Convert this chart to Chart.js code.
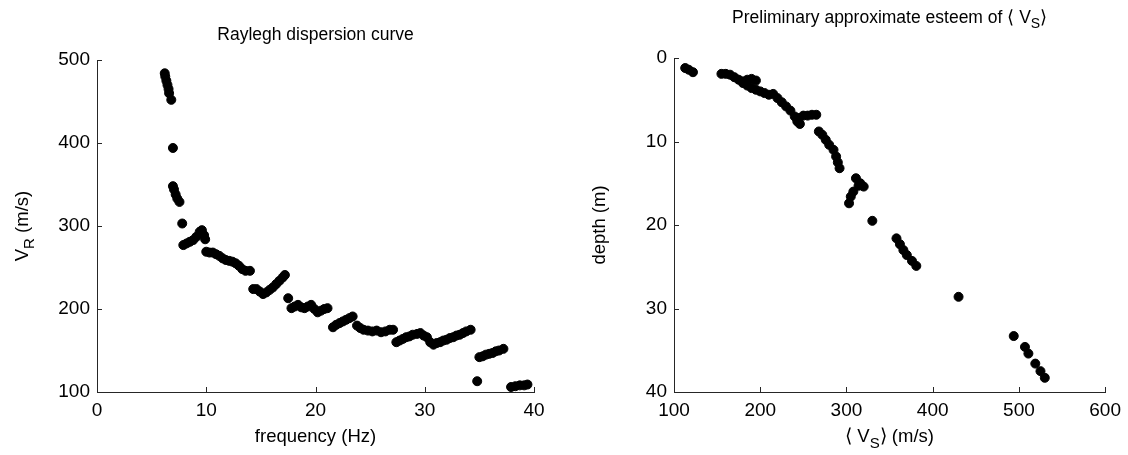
<!DOCTYPE html>
<html>
<head>
<meta charset="utf-8">
<script src="https://cdn.jsdelivr.net/npm/chart.js@4"></script>
<style>
  html, body { margin: 0; padding: 0; background: #fff; }
  .wrap { position: absolute; top: 0; width: 564px; height: 455px; }
  #w1 { left: 0; }
  #w2 { left: 564px; }
</style>
</head>
<body>
<div class="wrap" id="w1"><canvas id="dispChart"></canvas></div>
<div class="wrap" id="w2"><canvas id="vsChart"></canvas></div>
<script>
// Rayleigh dispersion curve: frequency (Hz) vs phase velocity (m/s)
const freq = [6.2, 6.25, 6.35, 6.45, 6.55, 6.6, 6.8, 6.95,
  6.95, 7.05, 7.2, 7.35, 7.55, 7.8,
  7.9, 8.2, 8.5, 8.8, 9.1, 9.4, 9.6, 9.8, 9.9,
  10.0, 10.3, 10.6, 10.9, 11.2, 11.5, 11.8, 12.1, 12.4, 12.7, 13.0, 13.3, 13.6, 14.0,
  14.3, 14.6, 14.9, 15.2, 15.5, 15.8, 16.1, 16.4, 16.7, 17.0, 17.2, 17.5,
  17.8, 18.1, 18.4, 18.7, 19.0, 19.3, 19.6, 19.9, 20.2, 20.5, 20.8, 21.1,
  21.6, 21.9, 22.2, 22.5, 22.8, 23.1, 23.4,
  23.8, 24.1, 24.4, 24.8, 25.2, 25.6, 26.0, 26.4, 26.8, 27.1,
  27.4, 27.7, 28.0, 28.3, 28.6, 28.9, 29.3, 29.6, 29.9, 30.2, 30.5, 30.8, 31.1, 31.4,
  31.7, 32.0, 32.3, 32.6, 32.9, 33.2, 33.5, 33.8, 34.2, 34.8,
  35.0, 35.3, 35.6, 35.9, 36.2, 36.5, 36.8, 37.2,
  37.9, 38.3, 38.7, 39.1, 39.4];
const vr = [484, 480, 475, 470, 465, 460, 452, 394,
  348, 344, 338, 333, 329, 303,
  277, 279, 281, 283, 287, 293, 295, 289, 284,
  269, 268, 268, 266, 264, 261, 259, 258, 257, 255, 252, 248, 246, 246,
  224, 224, 221, 218, 220, 223, 226, 230, 234, 238, 241, 213,
  201, 203, 205, 202, 201, 203, 205, 200, 196, 198, 200, 201,
  178, 181, 183, 185, 187, 189, 191,
  180, 177, 175, 174, 173, 174, 172, 173, 175, 175,
  160, 162, 164, 166, 167, 169, 170, 171, 168, 166, 160, 157, 159, 160,
  162, 163, 165, 166, 168, 169, 171, 173, 175, 113,
  142, 143, 145, 146, 147, 149, 150, 152,
  106, 107, 108, 108, 109];

// Preliminary <Vs> estimate: velocity (m/s) vs depth (m)
const vsAvg = [113, 117, 122,
  155, 160, 165, 170, 175, 180, 185, 190, 195,
  180, 185, 190, 195, 200, 205, 210, 215, 220, 225, 230, 235,
  240, 245, 250, 255, 260, 265, 243, 246,
  268, 272, 276, 280, 285, 288, 290, 292,
  311, 316, 320, 314, 308, 305, 303, 330,
  358, 362, 366, 370, 376, 381, 430,
  494, 507, 511, 519, 525, 530];
const depth = [1.2, 1.4, 1.7,
  1.9, 1.9, 2.0, 2.3, 2.6, 2.8, 2.6, 2.5, 2.7,
  3.0, 3.3, 3.6, 3.8, 4.0, 4.2, 4.4, 4.3, 4.8, 5.3, 5.8, 6.3,
  7.0, 7.2, 6.9, 6.9, 6.8, 6.8, 7.6, 7.9,
  8.8, 9.2, 9.8, 10.4, 11.0, 11.8, 12.5, 13.2,
  14.4, 15.0, 15.4, 15.3, 16.0, 16.6, 17.4, 19.5,
  21.6, 22.3, 23.0, 23.6, 24.3, 24.9, 28.6,
  33.3, 34.6, 35.4, 36.6, 37.5, 38.3];

// tick labels
const freqTicks = [0, 10, 20, 30, 40];
const vrTicks = [100, 200, 300, 400, 500];
const vsTicks = [100, 200, 300, 400, 500, 600];
const depthTicks = [0, 10, 20, 30, 40];

const FONT = 'Liberation Sans, Arial, Helvetica, sans-serif';

// draws text made of pieces, some of them subscripted
function drawRich(ctx, parts, cx, cy, size) {
  const subSize = Math.round(size * 0.8);
  let total = 0;
  parts.forEach(p => {
    ctx.font = (p.sub ? subSize : size) + 'px ' + FONT;
    p.w = ctx.measureText(p.t).width;
    total += p.w;
  });
  let x = cx - total / 2;
  ctx.textBaseline = 'middle';
  ctx.textAlign = 'left';
  parts.forEach(p => {
    ctx.font = (p.sub ? subSize : size) + 'px ' + FONT;
    ctx.fillText(p.t, x, p.sub ? cy + size * 0.35 : cy);
    x += p.w;
  });
}

// MATLAB-ish inward ticks plus titles
const decor = {
  id: 'decor',
  afterDraw(chart, args, opts) {
    const ctx = chart.ctx;
    const a = chart.chartArea;
    const xs = chart.scales.x, ys = chart.scales.y;
    ctx.save();
    ctx.strokeStyle = '#262626';
    ctx.lineWidth = 1;
    ctx.beginPath();
    opts.xt.forEach(v => {
      const px = Math.round(xs.getPixelForValue(v)) + 0.5;
      ctx.moveTo(px, a.bottom);
      ctx.lineTo(px, a.bottom - 5);
    });
    opts.yt.forEach(v => {
      const py = Math.round(ys.getPixelForValue(v)) + 0.5;
      ctx.moveTo(a.left, py);
      ctx.lineTo(a.left + 5, py);
    });
    ctx.stroke();
    ctx.fillStyle = '#000';
    drawRich(ctx, opts.title, (a.left + a.right) / 2, opts.titleY, 17.5);
    drawRich(ctx, opts.xTitle, (a.left + a.right) / 2, 437, 18.5);
    ctx.save();
    ctx.translate(opts.yTitleX, (a.top + a.bottom) / 2);
    ctx.rotate(-Math.PI / 2);
    drawRich(ctx, opts.yTitle, 0, 0, 18.5);
    ctx.restore();
    ctx.restore();
  }
};

function axis(min, max, ticks, reverse, w, h) {
  return {
    type: 'linear', min: min, max: max, reverse: !!reverse,
    grid: { display: false, drawTicks: false },
    border: { display: true, color: '#262626', width: 1 },
    afterBuildTicks: s => { s.ticks = ticks.map(v => ({ value: v })); },
    afterFit: s => { if (w) s.width = w; if (h) s.height = h; },
    ticks: { color: '#000', font: { family: FONT, size: 19 }, padding: 7, autoSkip: false, maxRotation: 0 }
  };
}

function makeChart(id, xsArr, ysArr, xAxis, yAxis, pad, decorOpts) {
  new Chart(document.getElementById(id), {
    type: 'scatter',
    data: {
      datasets: [{
        data: xsArr.map((v, i) => ({ x: v, y: ysArr[i] })),
        backgroundColor: '#000',
        borderColor: '#000',
        pointRadius: 4.5,
        pointHoverRadius: 4.5
      }]
    },
    options: {
      responsive: true,
      maintainAspectRatio: false,
      animation: false,
      layout: { padding: pad },
      plugins: { legend: { display: false }, tooltip: { enabled: false }, decor: decorOpts },
      scales: { x: xAxis, y: yAxis }
    },
    plugins: [decor]
  });
}

makeChart('dispChart', freq, vr,
  axis(0, 40, freqTicks, false, 0, 63),
  axis(100, 500, vrTicks, false, 97, 0),
  { left: 0, right: 30, top: 60, bottom: 0 },
  {
    xt: freqTicks, yt: vrTicks,
    title: [{ t: 'Raylegh dispersion curve' }], titleY: 35,
    xTitle: [{ t: 'frequency (Hz)' }],
    yTitle: [{ t: 'V' }, { t: 'R', sub: true }, { t: ' (m/s)' }], yTitleX: 23
  });

makeChart('vsChart', vsAvg, depth,
  axis(100, 600, vsTicks, false, 0, 63),
  axis(0, 40, depthTicks, true, 110, 0),
  { left: 0, right: 20, top: 58, bottom: 0 },
  {
    xt: vsTicks, yt: depthTicks,
    title: [{ t: 'Preliminary approximate esteem of \u27E8 V' }, { t: 'S', sub: true }, { t: '\u27E9' }], titleY: 18,
    xTitle: [{ t: '\u27E8 V' }, { t: 'S', sub: true }, { t: '\u27E9 (m/s)' }],
    yTitle: [{ t: 'depth (m)' }], yTitleX: 36
  });
</script>
</body>
</html>
